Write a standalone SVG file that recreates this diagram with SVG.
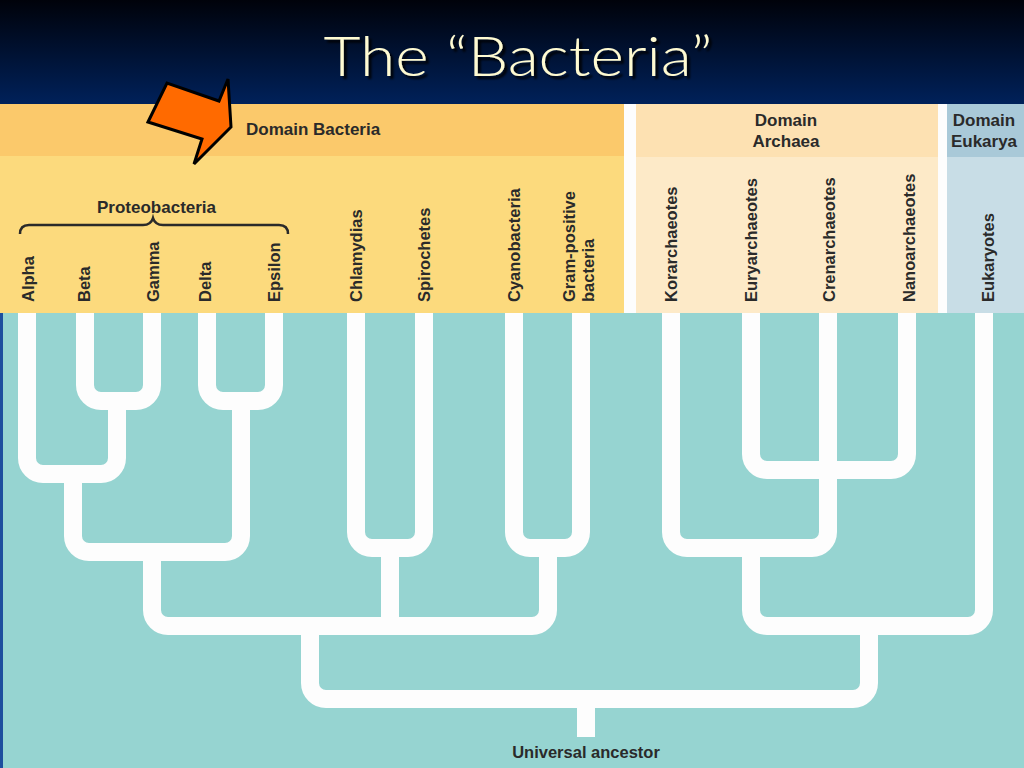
<svg xmlns="http://www.w3.org/2000/svg" width="1024" height="768" viewBox="0 0 1024 768">
<defs>
<linearGradient id="bg" x1="0" y1="0" x2="0" y2="1">
<stop offset="0" stop-color="#00020a"/>
<stop offset="1" stop-color="#00215a"/>
</linearGradient>
<filter id="sh" x="-10%" y="-20%" width="120%" height="150%">
<feDropShadow dx="3" dy="3" stdDeviation="0.8" flood-color="#000000" flood-opacity="0.9"/>
</filter>
<style>
.br{fill:none;stroke:#fdfdfd;stroke-width:18;stroke-linejoin:round}
.lb{font-family:"Liberation Sans",Arial,sans-serif;font-weight:bold;font-size:16.5px;fill:#2a2a2a}
.hd{font-family:"Liberation Sans",Arial,sans-serif;font-weight:bold;font-size:17px;fill:#2a2a2a}
.tt{font-family:Lato,"Open Sans","DejaVu Sans",sans-serif;font-weight:300;font-size:56px}
</style>
</defs>
<rect x="0" y="0" width="1024" height="104" fill="url(#bg)"/>
<g id="title">
<text class="tt" x="518" y="76" text-anchor="middle" textLength="389" lengthAdjust="spacingAndGlyphs" fill="#fffbd2" filter="url(#sh)">The “Bacteria”</text>
</g>
<g id="bands">
<rect x="0" y="104" width="1024" height="664" fill="#fdfdfd"/>
<rect x="0" y="104" width="624" height="52" fill="#fbc96b"/>
<rect x="0" y="156" width="624" height="158" fill="#fcda7d"/>
<rect x="636" y="104" width="302" height="53" fill="#fde1b2"/>
<rect x="636" y="157" width="302" height="157" fill="#fdeac8"/>
<rect x="947" y="104" width="77" height="53" fill="#a9c9d8"/>
<rect x="947" y="157" width="77" height="157" fill="#c8dde6"/>
<rect x="0" y="313" width="1024" height="455" fill="#96d4d1"/>
<rect x="0" y="313" width="3" height="455" fill="#1d4f9e"/>
</g>
<g id="connectors">
<path class="br" d="M27,313 V458 A16,16 0 0 0 43,474 H101 A16,16 0 0 0 117,458 V401"/>
<path class="br" d="M85,313 V385 A16,16 0 0 0 101,401 H136 A16,16 0 0 0 152,385 V313"/>
<path class="br" d="M207,313 V385 A16,16 0 0 0 223,401 H258 A16,16 0 0 0 274,385 V313"/>
<path class="br" d="M73,474 V536 A16,16 0 0 0 89,552 H225 A16,16 0 0 0 241,536 V401"/>
<path class="br" d="M152,552 V610 A16,16 0 0 0 168,626 H532 A16,16 0 0 0 548,610 V548"/>
<path class="br" d="M514,313 V532 A16,16 0 0 0 530,548 H565 A16,16 0 0 0 581,532 V313"/>
<path class="br" d="M356,313 V532 A16,16 0 0 0 372,548 H408 A16,16 0 0 0 424,532 V313"/>
<path class="br" d="M390,548 V626"/>
<path class="br" d="M310,626 V683 A16,16 0 0 0 326,699 H853 A16,16 0 0 0 869,683 V626"/>
<path class="br" d="M586,699 V737"/>
<path class="br" d="M671,313 V532 A16,16 0 0 0 687,548 H812 A16,16 0 0 0 828,532 V313"/>
<path class="br" d="M751,313 V454 A16,16 0 0 0 767,470 H891 A16,16 0 0 0 907,454 V313"/>
<path class="br" d="M751,548 V610 A16,16 0 0 0 767,626 H968 A16,16 0 0 0 984,610 V313"/>
</g>
<g id="domain-bacteria"><text class="hd" x="246" y="135">Domain Bacteria</text></g>
<g id="domain-archaea"><text class="hd" x="786" y="126" text-anchor="middle">Domain</text><text class="hd" x="786" y="147" text-anchor="middle">Archaea</text></g>
<g id="domain-eukarya"><text class="hd" x="984" y="126" text-anchor="middle">Domain</text><text class="hd" x="984" y="147" text-anchor="middle">Eukarya</text></g>
<g id="proteobacteria">
<text class="hd" x="97" y="213">Proteobacteria</text>
<path d="M20,234 Q20,225 29,225 H143 Q151,225 153,218 Q155,225 163,225 H279 Q288,225 288,234" fill="none" stroke="#2a2a2a" stroke-width="2.5"/>
</g>
<g id="alpha"><text class="lb" transform="translate(34,302) rotate(-90)">Alpha</text></g>
<g id="beta"><text class="lb" transform="translate(90,302) rotate(-90)">Beta</text></g>
<g id="gamma"><text class="lb" transform="translate(159,302) rotate(-90)">Gamma</text></g>
<g id="delta"><text class="lb" transform="translate(211,302) rotate(-90)">Delta</text></g>
<g id="epsilon"><text class="lb" transform="translate(280,302) rotate(-90)">Epsilon</text></g>
<g id="chlamydias"><text class="lb" transform="translate(362,302) rotate(-90)">Chlamydias</text></g>
<g id="spirochetes"><text class="lb" transform="translate(430,302) rotate(-90)">Spirochetes</text></g>
<g id="cyanobacteria"><text class="lb" transform="translate(520,302) rotate(-90)">Cyanobacteria</text></g>
<g id="gram-positive"><text class="lb" transform="translate(575,302) rotate(-90)">Gram-positive</text><text class="lb" transform="translate(594,302) rotate(-90)">bacteria</text></g>
<g id="korarchaeotes"><text class="lb" transform="translate(677,302) rotate(-90)">Korarchaeotes</text></g>
<g id="euryarchaeotes"><text class="lb" transform="translate(757,302) rotate(-90)">Euryarchaeotes</text></g>
<g id="crenarchaeotes"><text class="lb" transform="translate(835,302) rotate(-90)">Crenarchaeotes</text></g>
<g id="nanoarchaeotes"><text class="lb" transform="translate(915,302) rotate(-90)">Nanoarchaeotes</text></g>
<g id="eukaryotes"><text class="lb" transform="translate(994,302) rotate(-90)">Eukaryotes</text></g>
<g id="universal-ancestor"><text class="lb" x="586" y="758" text-anchor="middle">Universal ancestor</text></g>
<g id="arrow">
<polygon points="148,122 167,83 219,101 228,79 231,127 194,164 202,139" fill="#ff6a00" stroke="#000000" stroke-width="3" stroke-linejoin="miter"/>
</g>
</svg>
